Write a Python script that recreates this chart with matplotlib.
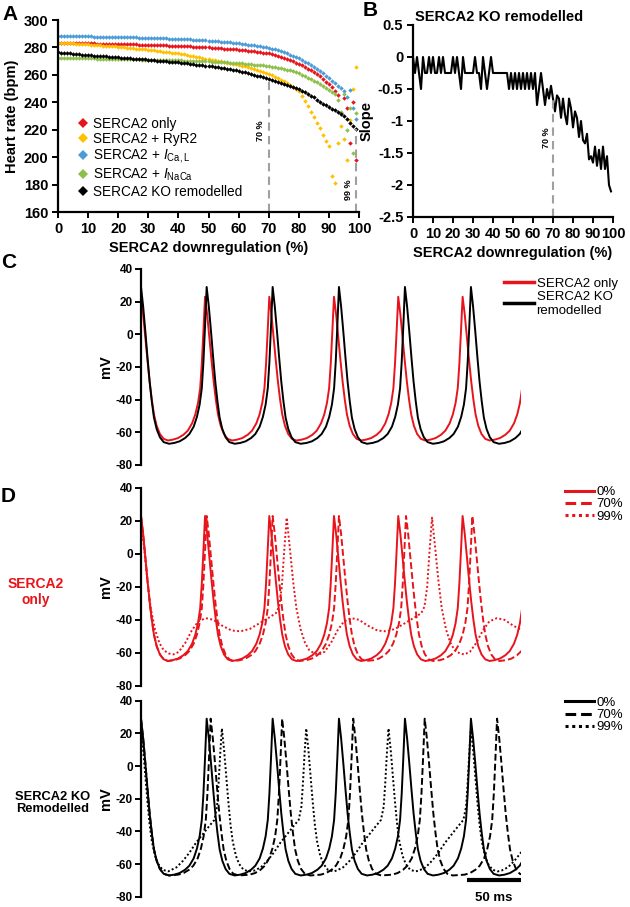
import numpy as np
import matplotlib
matplotlib.use("Agg")
import matplotlib.pyplot as plt
from matplotlib.lines import Line2D

plt.rcParams["font.family"] = ["Liberation Sans", "DejaVu Sans"]
plt.rcParams["font.weight"] = "bold"
plt.rcParams["axes.labelweight"] = "bold"
plt.rcParams["axes.unicode_minus"] = False
plt.rcParams["mathtext.fontset"] = "custom"
plt.rcParams["mathtext.rm"] = "Liberation Sans:weight=normal"
plt.rcParams["mathtext.it"] = "Liberation Sans:italic:weight=normal"

RED = "#e8141c"
YELLOW = "#ffc000"
BLUE = "#4a9cd8"
GREEN = "#8dbf4b"
GREY = "#a0a0a0"

# ---- panel A: heart rate vs SERCA2 downregulation (0..99 %) ----
downreg = np.arange(100)
hr_serca = [283.5, 283.4, 283.4, 283.3, 283.3, 283.2, 283.2, 283.1, 283.1, 283.0,
            283.0, 282.9, 282.9, 282.8, 282.8, 282.7, 282.7, 282.6, 282.6, 282.5,
            282.5, 282.4, 282.4, 282.3, 282.3, 282.2, 282.2, 282.1, 282.1, 282.0,
            282.0, 281.9, 281.8, 281.8, 281.7, 281.6, 281.5, 281.4, 281.3, 281.2,
            281.2, 281.1, 281.0, 280.9, 280.8, 280.6, 280.5, 280.4, 280.2, 280.1,
            280.0, 279.8, 279.7, 279.5, 279.4, 279.2, 279.0, 278.9, 278.7, 278.5,
            278.3, 278.1, 277.9, 277.6, 277.4, 277.2, 276.9, 276.6, 276.3, 276.0,
            275.7, 275.1, 274.5, 273.9, 273.2, 272.5, 271.7, 270.8, 269.9, 269.0,
            268.0, 266.9, 265.8, 264.6, 263.3, 262.0, 260.6, 259.0, 257.0, 255.0,
            253.0, 250.8, 248.5, 245.5, 232.0, 243.0, 236.0, 210.0, 240.0, 198.0]
hr_ryr2 = [283.5, 283.4, 283.3, 283.1, 283.0, 282.9, 282.8, 282.6, 282.5, 282.3,
           282.2, 282.0, 281.9, 281.7, 281.5, 281.4, 281.2, 281.0, 280.8, 280.7,
           280.5, 280.3, 280.1, 279.9, 279.7, 279.5, 279.2, 279.0, 278.8, 278.5,
           278.3, 278.0, 277.8, 277.5, 277.3, 277.0, 276.7, 276.4, 276.1, 275.9,
           275.7, 275.3, 274.9, 274.5, 274.1, 273.7, 273.3, 272.8, 272.4, 271.9,
           271.5, 271.1, 270.6, 270.2, 269.8, 269.3, 268.9, 268.5, 268.1, 267.6,
           267.2, 266.7, 266.1, 265.6, 265.0, 264.5, 263.8, 263.0, 262.2, 261.4,
           260.6, 259.7, 258.7, 257.7, 256.6, 255.5, 254.2, 252.7, 251.0, 249.5,
           248.0, 244.5, 241.0, 237.0, 233.0, 229.0, 225.0, 221.0, 216.0, 212.0,
           208.0, 186.0, 181.0, 210.0, 223.0, 213.0, 198.0, 227.0, 250.0, 266.0]
hr_ical = [288.3, 288.3, 288.3, 288.2, 288.2, 288.2, 288.1, 288.1, 288.1, 288.0,
           288.0, 288.0, 287.9, 287.9, 287.8, 287.8, 287.8, 287.7, 287.7, 287.6,
           287.6, 287.5, 287.5, 287.4, 287.4, 287.3, 287.3, 287.2, 287.1, 287.1,
           287.0, 286.9, 286.9, 286.8, 286.7, 286.6, 286.6, 286.5, 286.4, 286.3,
           286.2, 286.1, 286.0, 285.9, 285.8, 285.7, 285.6, 285.4, 285.3, 285.1,
           285.0, 284.8, 284.6, 284.5, 284.3, 284.1, 283.9, 283.7, 283.5, 283.3,
           283.0, 282.7, 282.4, 282.1, 281.8, 281.5, 281.2, 280.9, 280.5, 280.2,
           279.8, 279.2, 278.6, 278.0, 277.3, 276.5, 275.7, 274.8, 273.9, 273.0,
           272.0, 270.8, 269.6, 268.3, 267.0, 265.5, 264.0, 262.5, 261.0, 259.3,
           257.5, 255.8, 254.0, 252.2, 250.5, 248.5, 244.0, 249.0, 236.0, 228.0]
hr_inaca = [272.5, 272.5, 272.4, 272.4, 272.3, 272.3, 272.2, 272.2, 272.1, 272.1,
            272.0, 272.0, 272.0, 271.9, 271.9, 271.8, 271.8, 271.7, 271.7, 271.6,
            271.6, 271.5, 271.5, 271.4, 271.4, 271.3, 271.3, 271.2, 271.1, 271.1,
            271.0, 271.0, 270.9, 270.9, 270.8, 270.8, 270.7, 270.7, 270.6, 270.6,
            270.6, 270.5, 270.4, 270.4, 270.3, 270.2, 270.1, 270.0, 269.9, 269.9,
            269.8, 269.7, 269.6, 269.5, 269.4, 269.3, 269.1, 269.0, 268.8, 268.7,
            268.5, 268.3, 268.1, 267.9, 267.7, 267.5, 267.3, 267.1, 266.9, 266.6,
            266.4, 266.0, 265.6, 265.3, 264.9, 264.5, 263.9, 263.2, 262.5, 261.8,
            261.0, 260.0, 259.0, 257.9, 256.8, 255.5, 254.5, 253.3, 252.0, 250.6,
            249.0, 247.5, 246.0, 241.5, 233.0, 246.0, 220.0, 236.0, 203.0, 232.0]
hr_ko = [276.4, 276.2, 276.0, 275.8, 275.6, 275.4, 275.2, 275.0, 274.8, 274.6,
         274.5, 274.3, 274.1, 274.0, 273.8, 273.6, 273.5, 273.3, 273.1, 273.0,
         272.8, 272.6, 272.4, 272.2, 272.0, 271.9, 271.7, 271.5, 271.3, 271.2,
         271.0, 270.8, 270.6, 270.4, 270.2, 270.0, 269.8, 269.6, 269.4, 269.3,
         269.1, 268.8, 268.6, 268.3, 268.1, 267.8, 267.5, 267.3, 267.0, 266.7,
         266.4, 266.1, 265.7, 265.4, 265.0, 264.7, 264.3, 264.0, 263.6, 263.2,
         262.8, 262.3, 261.8, 261.2, 260.7, 260.1, 259.5, 258.9, 258.3, 257.6,
         257.0, 256.3, 255.6, 254.9, 254.2, 253.5, 252.8, 252.0, 251.2, 250.4,
         249.5, 248.5, 247.4, 246.2, 244.9, 243.5, 242.0, 240.5, 239.0, 237.8,
         236.6, 235.4, 234.2, 233.0, 231.8, 230.0, 227.5, 225.0, 222.5, 220.5]

# ---- panel B: slope of KO remodelled curve ----
slope_ko = [0, -0.25, 0, -0.25, -0.5, 0, -0.25, -0.25, 0, -0.25,
            0, -0.25, -0.25, 0, -0.25, 0, -0.25, -0.25, -0.25, -0.25,
            0, -0.25, 0, -0.25, -0.5, 0, -0.25, -0.25, -0.25, -0.25,
            -0.25, 0, -0.25, -0.25, -0.5, 0, -0.25, -0.5, -0.25, 0,
            -0.25, -0.25, -0.25, -0.25, -0.25, -0.25, -0.25, -0.25, -0.5, -0.25,
            -0.5, -0.25, -0.5, -0.25, -0.5, -0.25, -0.5, -0.25, -0.5, -0.25,
            -0.5, -0.25, -0.75, -0.5, -0.25, -0.5, -0.75, -0.5, -0.65, -0.45,
            -0.65, -0.85, -0.6, -0.65, -0.95, -0.65, -0.9, -1.05, -0.65, -0.8,
            -1.1, -0.85, -0.95, -1.25, -1.0, -1.3, -1.35, -1.2, -1.6, -1.55,
            -1.65, -1.4, -1.7, -1.45, -1.75, -1.4, -1.75, -1.55, -2.0, -2.1]

# ---- panels C/D: action potential traces ----
# one spike shape per trace, read as (ms offset, mV); decay after a peak, rise before the next
serca_decay_t = [0, 2, 4, 6, 8, 10, 12, 14.5, 17.5, 21, 25]
serca_decay_v = [23, 12, -2, -16, -29, -40, -49, -56, -61, -64, -65]
serca_rise_t = [-30, -25, -20, -16, -12, -9, -6.5, -4.5, -3, -1.5, 0]
serca_rise_v = [-64.5, -63.5, -61.5, -59, -54.5, -49, -42, -33, -18, 2, 23]

ko_decay_t = [0, 2, 4, 6, 8, 10, 12, 14.5, 17.5, 21, 26]
ko_decay_v = [29, 17, 2, -14, -29, -41, -51, -58, -63, -66, -67]
ko_rise_t = [-30, -25, -20, -16, -12, -9, -6.5, -4.5, -3, -1.5, 0]
ko_rise_v = [-66.5, -65.5, -63.5, -61, -56.5, -50.5, -43, -33, -17, 5, 29]

s99_decay_t = [0, 3, 6, 9, 13, 17, 21, 26, 30, 35, 41, 47, 53, 60, 67, 75, 84, 92]
s99_decay_v = [22, 3, -17, -33, -46, -54, -58.5, -60.5, -61, -59.5, -54, -46.5, -41,
               -39, -40, -43.5, -46.5, -47]
s99_rise_t = [-34, -25, -16, -10, -7, -4.5, -2.5, 0]
s99_rise_v = [-45.5, -42, -38.5, -36, -32, -20, 0, 22]

k99_decay_t = [0, 2, 4, 6, 8, 10, 13, 16, 20, 25]
k99_decay_v = [23, 10, -6, -22, -36, -46, -55, -60, -63.5, -64.5]
k99_rise_t = [-48, -42, -36, -30, -24, -18, -12, -7, -4.5, -3, -1.5, 0]
k99_rise_v = [-64, -62, -58, -53, -47, -42, -37, -33, -25, -10, 8, 23]

# peak times (ms), last one lies just past the end of the record
peaks_serca_0 = [0, 59.3, 118.8, 178.7, 238.2, 297.8, 357.4]
peaks_serca_70 = [0, 60.8, 121.9, 183.3, 245.4, 306.8, 368.2]
peaks_serca_99 = [0, 134.9, 269.5, 404.0]
peaks_ko_0 = [0, 60.8, 121.9, 183.3, 244.4, 305.5, 366.7]
peaks_ko_70 = [0, 64.5, 130.7, 196.5, 262.7, 329.7, 396.0]
peaks_ko_99 = [0, 74.9, 153.0, 229.2, 305.5, 381.8]

t_end = 351.5
scale_bar_ms = 50


def build_trace(peaks, dec_t, dec_v, rise_t, rise_v):
    t, v = [], []
    for i, p in enumerate(peaks):
        if i > 0:
            t += [p + d for d in rise_t]
            v += list(rise_v)
        if i < len(peaks) - 1:
            start = 0 if i == 0 else 1
            t += [p + d for d in dec_t[start:]]
            v += list(dec_v[start:])
    return t, v


serca0 = build_trace(peaks_serca_0, serca_decay_t, serca_decay_v, serca_rise_t, serca_rise_v)
serca70 = build_trace(peaks_serca_70, serca_decay_t, serca_decay_v, serca_rise_t, serca_rise_v)
serca99 = build_trace(peaks_serca_99, s99_decay_t, s99_decay_v, s99_rise_t, s99_rise_v)
ko0 = build_trace(peaks_ko_0, ko_decay_t, ko_decay_v, ko_rise_t, ko_rise_v)
ko70 = build_trace(peaks_ko_70, ko_decay_t, ko_decay_v, ko_rise_t, ko_rise_v)
ko99 = build_trace(peaks_ko_99, k99_decay_t, k99_decay_v, k99_rise_t, k99_rise_v)

W, H = 630, 907
fig = plt.figure(figsize=(W / 100, H / 100), dpi=100)


def box(x0, x1, y0, y1):
    return [x0 / W, 1 - y1 / H, (x1 - x0) / W, (y1 - y0) / H]


# ---------- A ----------
ax_a = fig.add_axes(box(58, 359, 20, 212))
series = [("SERCA2 only", hr_serca, RED),
          ("SERCA2 + RyR2", hr_ryr2, YELLOW),
          (r"SERCA2 + $I_{\mathrm{Ca,L}}$", hr_ical, BLUE),
          (r"SERCA2 + $I_{\mathrm{NaCa}}$", hr_inaca, GREEN),
          ("SERCA2 KO remodelled", hr_ko, "black")]
handles = []
for label, vals, col in series:
    ax_a.plot(downreg, vals, ls="none", marker="D", ms=2.3, mew=0, color=col)
    handles.append(Line2D([], [], ls="none", marker="D", ms=5, mew=0, color=col, label=label))
ax_a.plot([70, 70], [160, hr_ko[70]], ls=(0, (4, 2.5)), color=GREY, lw=1.5)
ax_a.plot([99, 99], [160, hr_ko[99]], ls=(0, (4, 2.5)), color=GREY, lw=1.5)
ax_a.text(67.2, 219, "70 %", rotation=90, fontsize=6.5, ha="center", va="center")
ax_a.text(96.6, 176, "99 %", rotation=90, fontsize=6.5, ha="center", va="center")
ax_a.set_xlim(0, 100)
ax_a.set_ylim(160, 300)
ax_a.set_xticks(range(0, 101, 10))
ax_a.set_yticks(range(160, 301, 20))
ax_a.set_xlabel("SERCA2 downregulation (%)", fontsize=10.5, labelpad=4)
ax_a.set_ylabel("Heart rate (bpm)", fontsize=10.5, labelpad=3)
ax_a.legend(handles=handles, loc="lower left", bbox_to_anchor=(0.065, 0.07), frameon=False,
            prop={"weight": "normal", "size": 9.8}, handlelength=0.8, handletextpad=0.3,
            labelspacing=0.1, borderpad=0, borderaxespad=0)

# ---------- B ----------
ax_b = fig.add_axes(box(413, 613, 25, 217))
ax_b.plot(downreg, slope_ko, color="black", lw=1.5)
ax_b.plot([70, 70], [-2.5, slope_ko[70]], ls=(0, (4, 2.5)), color=GREY, lw=1.5)
ax_b.text(66.8, -1.26, "70 %", rotation=90, fontsize=6.5, ha="center", va="center")
ax_b.set_xlim(0, 100)
ax_b.set_ylim(-2.5, 0.5)
ax_b.set_xticks(range(0, 101, 10))
ax_b.set_yticks(np.arange(-2.5, 0.51, 0.5))
ax_b.set_yticklabels(["-2.5", "-2", "-1.5", "-1", "-0.5", "0", "0.5"])
ax_b.set_xlabel("SERCA2 downregulation (%)", fontsize=10.5, labelpad=4)
ax_b.set_ylabel("Slope", fontsize=10.5, labelpad=3)
ax_b.text(0.01, 1.04, "SERCA2 KO remodelled", transform=ax_b.transAxes, fontsize=10.5,
          ha="left", va="center")

for ax in (ax_a, ax_b):
    for s in ("top", "right"):
        ax.spines[s].set_visible(False)
    for s in ("left", "bottom"):
        ax.spines[s].set_linewidth(1.6)
    ax.tick_params(direction="out", length=4, width=1.4, labelsize=10.5, pad=3)


# ---------- C / D ----------
def ap_axes(y0, y1):
    ax = fig.add_axes(box(141, 520.6, y0, y1))
    ax.set_xlim(0, t_end)
    ax.set_ylim(-80, 40)
    for s in ("top", "right", "bottom"):
        ax.spines[s].set_visible(False)
    ax.spines["left"].set_linewidth(1.6)
    ax.set_xticks([])
    ax.set_yticks(range(-80, 41, 20))
    ax.tick_params(axis="y", direction="out", length=4, width=1.4, labelsize=8.5, pad=2)
    ax.set_ylabel("mV", fontsize=10.5, labelpad=1.5)
    return ax


ax_c = ap_axes(269, 465)
ax_c.plot(*serca0, color=RED, lw=1.4)
ax_c.plot(*ko0, color="black", lw=1.4)
ax_c.legend(handles=[Line2D([], [], color=RED, lw=2.5), Line2D([], [], color="black", lw=2.5)],
            labels=["SERCA2 only", "SERCA2 KO\nremodelled"], loc="upper left",
            bbox_to_anchor=(0.955, 0.955), frameon=False, prop={"weight": "normal", "size": 9.5},
            handlelength=2.3, handletextpad=0.2, labelspacing=0.05, borderpad=0, borderaxespad=0)

styles = ["-", (0, (3.5, 1.6)), (0, (1, 1.2))]
ax_d1 = ap_axes(488, 685.7)
for tr, st in zip((serca0, serca70, serca99), styles):
    ax_d1.plot(*tr, color=RED, lw=1.4, ls=st)
ax_d1.legend(handles=[Line2D([], [], color=RED, lw=2.2, ls=st) for st in styles],
             labels=["0%", "70%", "99%"], loc="upper left", bbox_to_anchor=(1.117, 1.01),
             frameon=False, prop={"weight": "normal", "size": 9.5}, handlelength=2.2,
             handletextpad=0.15, labelspacing=0.0, borderpad=0, borderaxespad=0)

ax_d2 = ap_axes(700.7, 896.7)
for tr, st in zip((ko0, ko70, ko99), styles):
    ax_d2.plot(*tr, color="black", lw=1.4, ls=st)
ax_d2.legend(handles=[Line2D([], [], color="black", lw=2.2, ls=st) for st in styles],
             labels=["0%", "70%", "99%"], loc="upper left", bbox_to_anchor=(1.117, 1.02),
             frameon=False, prop={"weight": "normal", "size": 9.5}, handlelength=2.2,
             handletextpad=0.15, labelspacing=0.0, borderpad=0, borderaxespad=0)
ax_d2.plot([t_end - scale_bar_ms, t_end], [-70, -70], color="black", lw=3, clip_on=False,
           solid_capstyle="butt")
ax_d2.text(t_end - scale_bar_ms / 2, -81, "50 ms", ha="center", va="center", fontsize=9.5)

fig.text(36 / W, 1 - 592 / H, "SERCA2\nonly", color=RED, ha="center", va="center",
         fontsize=10, linespacing=1.1)
fig.text(53 / W, 1 - 803 / H, "SERCA2 KO\nRemodelled", color="black", ha="center",
         va="center", fontsize=9.3, linespacing=1.1)

for letter, x, y in (("A", 2, 14), ("B", 363, 11), ("C", 1, 263), ("D", 1, 496)):
    fig.text(x / W, 1 - y / H, letter, fontsize=15, ha="left", va="center")

fig.savefig("out.png", dpi=100)
